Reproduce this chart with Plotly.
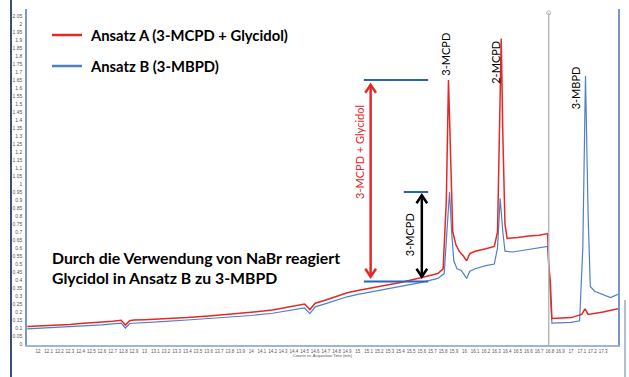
import plotly.graph_objects as go

# ---------------- data ----------------
time_a = [11.90, 12.00, 12.10, 12.20, 12.30, 12.40, 12.50, 12.60, 12.70, 12.78, 12.82, 12.86,
          12.90, 13.00, 13.20, 13.40, 13.60, 13.80, 14.00, 14.20, 14.40, 14.50, 14.55, 14.60,
          14.70, 14.80, 14.90, 15.00, 15.20, 15.40, 15.60, 15.75, 15.80, 15.83, 15.85, 15.87,
          15.89, 15.92, 15.95, 15.99, 16.02, 16.05, 16.10, 16.20, 16.28, 16.31, 16.33, 16.345,
          16.36, 16.38, 16.40, 16.50, 16.60, 16.70, 16.78, 16.79, 16.805, 16.82, 17.00, 17.10,
          17.13, 17.16, 17.30, 17.44]
signal_a = [0.110, 0.112, 0.118, 0.120, 0.122, 0.128, 0.132, 0.135, 0.142, 0.148, 0.118, 0.145,
            0.150, 0.152, 0.158, 0.165, 0.175, 0.185, 0.198, 0.212, 0.235, 0.250, 0.215, 0.255,
            0.275, 0.300, 0.320, 0.335, 0.360, 0.385, 0.415, 0.440, 0.470, 0.900, 1.650, 1.100,
            0.700, 0.620, 0.580, 0.550, 0.520, 0.565, 0.580, 0.595, 0.610, 0.700, 1.400, 1.910,
            1.300, 0.750, 0.660, 0.665, 0.675, 0.680, 0.690, 0.500, 0.390, 0.160, 0.165, 0.185,
            0.220, 0.185, 0.200, 0.220]

time_b = [11.90, 12.00, 12.20, 12.40, 12.60, 12.78, 12.82, 12.86, 13.00, 13.20, 13.40, 13.60,
          13.80, 14.00, 14.20, 14.40, 14.50, 14.55, 14.60, 14.70, 14.80, 14.90, 15.00, 15.20,
          15.40, 15.60, 15.75, 15.81, 15.84, 15.86, 15.88, 15.90, 15.93, 15.97, 16.00, 16.02,
          16.05, 16.10, 16.20, 16.28, 16.31, 16.335, 16.36, 16.38, 16.45, 16.60, 16.70, 16.78,
          16.79, 16.81, 16.82, 17.00, 17.08, 17.11, 17.135, 17.16, 17.18, 17.22, 17.30, 17.37,
          17.44]
signal_b = [0.095, 0.098, 0.105, 0.112, 0.120, 0.130, 0.100, 0.128, 0.135, 0.142, 0.150, 0.158,
            0.168, 0.178, 0.192, 0.212, 0.225, 0.190, 0.232, 0.252, 0.275, 0.295, 0.310, 0.335,
            0.360, 0.385, 0.410, 0.440, 0.750, 0.950, 0.700, 0.520, 0.470, 0.460, 0.430, 0.410,
            0.455, 0.470, 0.490, 0.500, 0.600, 0.910, 0.700, 0.580, 0.575, 0.590, 0.600, 0.610,
            0.500, 0.300, 0.130, 0.135, 0.145, 0.600, 1.675, 0.800, 0.360, 0.330, 0.310, 0.290,
            0.310]

x_tick_vals = [12.0, 12.1, 12.2, 12.3, 12.4, 12.5, 12.6, 12.7, 12.8, 12.9,
               13.0, 13.1, 13.2, 13.3, 13.4, 13.5, 13.6, 13.7, 13.8, 13.9,
               14.0, 14.1, 14.2, 14.3, 14.4, 14.5, 14.6, 14.7, 14.8, 14.9,
               15.0, 15.1, 15.2, 15.3, 15.4, 15.5, 15.6, 15.7, 15.8, 15.9,
               16.0, 16.1, 16.2, 16.3, 16.4, 16.5, 16.6, 16.7, 16.8, 16.9,
               17.0, 17.1, 17.2, 17.3]
x_tick_text = ["12", "12.1", "12.2", "12.3", "12.4", "12.5", "12.6", "12.7", "12.8", "12.9",
               "13", "13.1", "13.2", "13.3", "13.4", "13.5", "13.6", "13.7", "13.8", "13.9",
               "14", "14.1", "14.2", "14.3", "14.4", "14.5", "14.6", "14.7", "14.8", "14.9",
               "15", "15.1", "15.2", "15.3", "15.4", "15.5", "15.6", "15.7", "15.8", "15.9",
               "16", "16.1", "16.2", "16.3", "16.4", "16.5", "16.6", "16.7", "16.8", "16.9",
               "17", "17.1", "17.2", "17.3"]

series_names = ["Ansatz A (3-MCPD + Glycidol)", "Ansatz B (3-MBPD)"]
peak_labels = ["3-MCPD", "2-MCPD", "3-MBPD"]
peak_label_times = [15.82, 16.29, 17.04]
peak_label_heights = [1.81, 1.76, 1.60]
baseline_level = 0.39
cut_time = 16.79

# ---------------- layout helpers ----------------
W, H = 629, 377
L, R, T, B = 27, 618, 9, 345   # plot box in pixels
def px(x):
    return (x - L) / (R - L)
def py(y):
    return (B - y) / (B - T)

RED = "rgb(228,40,38)"
BLUE = "rgb(78,128,200)"
MARK_BLUE = "rgb(40,100,190)"
FONT = "Lato"

fig = go.Figure()
fig.add_trace(go.Scatter(x=time_b, y=signal_b, mode="lines", name=series_names[1],
                         line=dict(color=BLUE, width=1.2), showlegend=False))
fig.add_trace(go.Scatter(x=time_a, y=signal_a, mode="lines", name=series_names[0],
                         line=dict(color=RED, width=1.5), showlegend=False))

red_peak = max(v for t, v in zip(time_a, signal_a) if t < 16.0)
blue_peak = max(v for t, v in zip(time_b, signal_b) if t < 16.0)

shapes = []
# outer frame lines
shapes.append(dict(type="line", xref="paper", yref="paper", x0=px(11), x1=px(11),
                   y0=py(0), y1=py(377), line=dict(color="rgb(60,78,120)", width=2)))
shapes.append(dict(type="line", xref="paper", yref="paper", x0=px(625), x1=px(625),
                   y0=py(300), y1=py(377), line=dict(color="rgb(150,170,205)", width=1.5)))
# grey cut line
shapes.append(dict(type="line", xref="x", yref="y", x0=cut_time, x1=cut_time,
                   y0=-0.006, y1=2.07, line=dict(color="rgb(185,185,185)", width=1.5)))
# horizontal marker lines
shapes.append(dict(type="line", xref="x", yref="y", x0=15.056, x1=15.66,
                   y0=red_peak, y1=red_peak, line=dict(color=MARK_BLUE, width=2)))
shapes.append(dict(type="line", xref="x", yref="y", x0=15.056, x1=15.66,
                   y0=baseline_level, y1=baseline_level, line=dict(color=MARK_BLUE, width=2)))
shapes.append(dict(type="line", xref="x", yref="y", x0=15.43, x1=15.66,
                   y0=blue_peak, y1=blue_peak, line=dict(color=MARK_BLUE, width=2)))

def double_arrow(xc, ytop, ybot, color, width):
    dx, dy = 0.05, 0.05
    out = [dict(type="line", xref="x", yref="y", x0=xc, x1=xc, y0=ytop, y1=ybot,
                line=dict(color=color, width=width))]
    out.append(dict(type="path", xref="x", yref="y",
                    path=f"M {xc-dx},{ytop-dy} L {xc},{ytop} L {xc+dx},{ytop-dy}",
                    line=dict(color=color, width=width)))
    out.append(dict(type="path", xref="x", yref="y",
                    path=f"M {xc-dx},{ybot+dy} L {xc},{ybot} L {xc+dx},{ybot+dy}",
                    line=dict(color=color, width=width)))
    return out

shapes += double_arrow(15.12, red_peak - 0.03, baseline_level + 0.03, RED, 2.5)
shapes += double_arrow(15.60, blue_peak - 0.02, baseline_level + 0.03, "black", 2.5)

# legend lines
shapes.append(dict(type="line", xref="paper", yref="paper", x0=px(52), x1=px(82),
                   y0=py(35), y1=py(35), line=dict(color=RED, width=2.5)))
shapes.append(dict(type="line", xref="paper", yref="paper", x0=px(52), x1=px(82),
                   y0=py(66), y1=py(66), line=dict(color=BLUE, width=2.5)))

ann = []
ann.append(dict(xref="paper", yref="paper", x=px(88), y=py(35), xanchor="left", yanchor="middle",
                text=series_names[0], showarrow=False,
                font=dict(family=FONT, size=14.8, color="black", weight=700)))
ann.append(dict(xref="paper", yref="paper", x=px(88), y=py(66), xanchor="left", yanchor="middle",
                text=series_names[1], showarrow=False,
                font=dict(family=FONT, size=14.8, color="black", weight=700)))
ann.append(dict(xref="paper", yref="paper", x=px(50), y=py(257), xanchor="left", yanchor="middle",
                text="Durch die Verwendung von NaBr reagiert", showarrow=False,
                font=dict(family=FONT, size=15.8, color="black", weight=700)))
ann.append(dict(xref="paper", yref="paper", x=px(50), y=py(277), xanchor="left", yanchor="middle",
                text="Glycidol in Ansatz B zu 3-MBPD", showarrow=False,
                font=dict(family=FONT, size=15.8, color="black", weight=700)))
for lab, tx, hy in zip(peak_labels, peak_label_times, peak_label_heights):
    ann.append(dict(xref="x", yref="y", x=tx, y=hy, text=lab, textangle=-90, showarrow=False,
                    font=dict(family=FONT, size=11, color="black")))
ann.append(dict(xref="x", yref="y", x=15.01, y=1.20, text="3-MCPD + Glycidol", textangle=-90,
                showarrow=False, font=dict(family=FONT, size=11, color=RED)))
ann.append(dict(xref="x", yref="y", x=15.48, y=0.68, text="3-MCPD", textangle=-90,
                showarrow=False, font=dict(family=FONT, size=11, color="black")))
ann.append(dict(xref="paper", yref="paper", x=0.5, y=py(360), text="Counts vs. Acquisition Time (min)",
                showarrow=False, font=dict(family="Liberation Sans", size=4, color="#555")))

fig.add_trace(go.Scatter(x=[cut_time], y=[2.07], mode="markers", showlegend=False,
                         marker=dict(symbol="circle-open", size=4, color="rgb(185,185,185)")))

fig.update_layout(
    width=W, height=H,
    margin=dict(l=L, r=W - R, t=T, b=H - B, pad=0, autoexpand=False),
    paper_bgcolor="white", plot_bgcolor="white",
    shapes=shapes, annotations=ann, showlegend=False,
    xaxis=dict(range=[11.897, 17.44], tickvals=x_tick_vals, ticktext=x_tick_text,
               showgrid=False, zeroline=False, showline=True, linecolor="rgb(160,180,215)",
               linewidth=1.5, ticks="", ticklabelstandoff=1, tickangle=0, automargin=False,
               tickfont=dict(family="Liberation Sans", size=4.5, color="#555")),
    yaxis=dict(range=[-0.00625, 2.09375], tick0=0, dtick=0.05, showgrid=False, zeroline=False,
               showline=True, mirror=True, linecolor="rgb(120,150,205)", linewidth=1.5,
               ticks="", ticklabelstandoff=2, automargin=False,
               tickfont=dict(family="Liberation Sans", size=5, color="#555")),
)
fig.write_html("out.html", config={"displayModeBar": False},
               post_script="document.body.style.margin='0';document.body.style.overflow='hidden';")
